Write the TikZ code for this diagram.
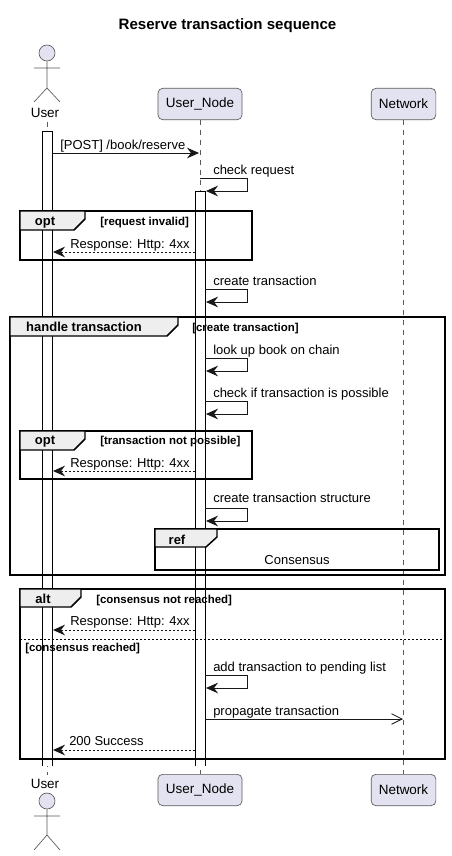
\documentclass[tikz,border=0pt]{standalone}
\usepackage{fontspec}
\setmainfont{Liberation Sans}
\usetikzlibrary{arrows.meta}
\definecolor{pfill}{HTML}{E2E2F0}
\definecolor{ink}{HTML}{181818}
\definecolor{soft}{HTML}{5A5A5A}
\definecolor{tabfill}{HTML}{EEEEEE}
\newcommand{\plabel}[1]{\raisebox{-.75pt}{#1}}
\tikzset{
  actorline/.style={draw=soft,line width=0.5pt},
  actorhead/.style={circle,draw=soft,line width=0.5pt,fill=pfill,minimum size=12pt,inner sep=0pt},
  pbox/.style={draw=soft,line width=0.5pt,fill=pfill,rounded corners=3.5pt,minimum height=23.5pt,inner sep=0pt,font=\fontsize{10.1}{12}\selectfont},
  lifeline/.style={draw=soft,line width=0.4pt,dash pattern=on 3.75pt off 3.75pt},
  activfill/.style={fill=white},
  activline/.style={draw=black,line width=0.75pt},
  msg/.style={draw=ink,line width=0.75pt,-{Stealth[length=9pt,width=8pt,inset=3pt,fill=ink]}},
  reply/.style={msg,dash pattern=on 1.5pt off 1.5pt},
  open/.style={draw=ink,line width=0.6pt,-{Straight Barb[length=8pt,width=8pt]}},
  frameline/.style={draw=black,line width=1.1pt},
  tabshape/.style={draw=black,line width=1.1pt,fill=tabfill},
  txt/.style={inner sep=0pt,anchor=mid west,yshift=-0.75pt,font=\fontsize{9.75}{12}\selectfont},
  guard/.style={inner sep=0pt,anchor=mid west,yshift=-0.75pt,font=\fontsize{8.6}{11}\bfseries\selectfont},
  tabtxt/.style={inner sep=0pt,anchor=mid,yshift=-0.75pt,font=\fontsize{9.75}{12}\bfseries\selectfont},
  actorlabel/.style={inner sep=0pt,anchor=mid,yshift=-0.75pt,font=\fontsize{10.1}{12}\selectfont},
}
\begin{document}
\begin{tikzpicture}[x=0.75pt,y=-0.75pt]
\useasboundingbox[fill=white] (0,0) rectangle (451,856);
\node[inner sep=0pt,font=\fontsize{11.3}{13}\bfseries\selectfont] (title) at (227.5,26) {Reserve transaction sequence};

% lifeline ends
\coordinate (ut) at (47,122); \coordinate (ub) at (47,775);
\node[pbox,minimum width=63pt] (untop) at (200,104) {\plabel{User\_Node}};
\node[pbox,minimum width=63pt] (unbot) at (200,790) {\plabel{User\_Node}};
\node[pbox,minimum width=48.5pt] (nwtop) at (403.5,104) {\plabel{Network}};
\node[pbox,minimum width=48.5pt] (nwbot) at (403.5,790) {\plabel{Network}};
\draw[lifeline] (ut) -- (ub);
\draw[lifeline] (untop) -- (unbot);
\draw[lifeline] (nwtop) -- (nwbot);

% activations (open at the bottom)
\coordinate (a1a) at (42,131); \coordinate (a1b) at (52,766);
\coordinate (a2a) at (195,191); \coordinate (a2b) at (205,766);
\fill[activfill] (a1a) rectangle (a1b);
\fill[activfill] (a2a) rectangle (a2b);
\draw[activline] (a1a |- a1b) -- (a1a) -- (a1b |- a1a) -- (a1b);
\draw[activline] (a2a |- a2b) -- (a2a) -- (a2b |- a2a) -- (a2b);

% actors
\node[actorhead] (h1) at (47,53) {};
\coordinate (n1) at (47,88); \coordinate (al1) at (34,68); \coordinate (ar1) at (60,68);
\coordinate (ll1) at (34,102); \coordinate (lr1) at (60,102);
\draw[actorline] (h1) -- (n1) (al1) -- (ar1) (ll1) -- (n1) -- (lr1);
\node[actorlabel] (ulabt) at (45,113) {User};
\node[actorlabel] (ulabb) at (45,784) {User};
\node[actorhead] (h2) at (47,801) {};
\coordinate (n2) at (47,835); \coordinate (al2) at (34,816); \coordinate (ar2) at (60,816);
\coordinate (ll2) at (34,850); \coordinate (lr2) at (60,850);
\draw[actorline] (h2) -- (n2) (al2) -- (ar2) (ll2) -- (n2) -- (lr2);

% messages
\node[txt] (t1) at (60,145) {[POST] /book/reserve};
\coordinate (m1a) at (52,153); \coordinate (m1b) at (199,153);
\draw[msg] (m1a) -- (m1b);

\node[txt] (t2) at (213,170) {check request};
\coordinate (m2a) at (200,178); \coordinate (m2b) at (247,191); \coordinate (m2c) at (206,191);
\draw[msg] (m2a) -| (m2b) -- (m2c);

% opt 1
\coordinate (o1a) at (20,211); \coordinate (o1b) at (252,260);
\draw[frameline] (o1a) rectangle (o1b);
\draw[tabshape] (20,211) -- (85,211) -- (85,219) -- (74,230) -- (20,230) -- cycle;
\node[tabtxt] (o1t) at (45,221) {opt};
\node[guard] (o1g) at (100,221) {[request invalid]};
\node[txt] (t3) at (70,244) {Response: Http: 4xx};
\coordinate (m3a) at (195,252); \coordinate (m3b) at (53,252);
\draw[reply] (m3a) -- (m3b);

\node[txt] (t4) at (213,281) {create transaction};
\coordinate (m4a) at (205,289); \coordinate (m4b) at (247,302); \coordinate (m4c) at (206,302);
\draw[msg] (m4a) -| (m4b) -- (m4c);

% handle transaction
\coordinate (hta) at (10,317); \coordinate (htb) at (445,575);
\draw[frameline] (hta) rectangle (htb);
\draw[tabshape] (10,317) -- (178,317) -- (178,325) -- (167,336) -- (10,336) -- cycle;
\node[tabtxt] (htt) at (84,327) {handle transaction};
\node[guard] (htg) at (192,327) {[create transaction]};

\node[txt] (t5) at (213,350) {look up book on chain};
\coordinate (m5a) at (205,358); \coordinate (m5b) at (247,371); \coordinate (m5c) at (206,371);
\draw[msg] (m5a) -| (m5b) -- (m5c);

\node[txt] (t6) at (213,393) {check if transaction is possible};
\coordinate (m6a) at (205,401); \coordinate (m6b) at (247,414); \coordinate (m6c) at (206,414);
\draw[msg] (m6a) -| (m6b) -- (m6c);

% opt 2
\coordinate (o2a) at (20,431); \coordinate (o2b) at (252,479);
\draw[frameline] (o2a) rectangle (o2b);
\draw[tabshape] (20,431) -- (85,431) -- (85,439) -- (74,450) -- (20,450) -- cycle;
\node[tabtxt] (o2t) at (45,440) {opt};
\node[guard] (o2g) at (100,440) {[transaction not possible]};
\node[txt] (t7) at (70,463) {Response: Http: 4xx};
\coordinate (m7a) at (195,471); \coordinate (m7b) at (53,471);
\draw[reply] (m7a) -- (m7b);

\node[txt] (t8) at (213,498) {create transaction structure};
\coordinate (m8a) at (205,508); \coordinate (m8b) at (247,521); \coordinate (m8c) at (206,521);
\draw[msg] (m8a) -| (m8b) -- (m8c);

% ref
\coordinate (ra) at (155,529); \coordinate (rb) at (439,570);
\draw[frameline] (ra) rectangle (rb);
\draw[tabshape] (155,529) -- (217,529) -- (217,537) -- (206,547) -- (155,547) -- cycle;
\node[tabtxt] (rt) at (177,540) {ref};
\node[inner sep=0pt,yshift=-0.75pt,font=\fontsize{9.75}{12}\selectfont] (rc) at (297,559) {Consensus};

% alt
\coordinate (aa) at (20,589); \coordinate (ab) at (445,759);
\coordinate (sa) at (20,639); \coordinate (sb) at (445,639);
\draw[frameline] (aa) rectangle (ab);
\draw[tabshape] (20,589) -- (81,589) -- (81,597) -- (71,607) -- (20,607) -- cycle;
\node[tabtxt] (at) at (43,599) {alt};
\node[guard] (ag1) at (96,599) {[consensus not reached]};
\node[txt] (t9) at (70,621) {Response: Http: 4xx};
\coordinate (m9a) at (195,630); \coordinate (m9b) at (53,630);
\draw[reply] (m9a) -- (m9b);
\draw[draw=black,line width=0.75pt,dash pattern=on 1.5pt off 1.5pt] (sa) -- (sb);
\node[guard] (ag2) at (25,647) {[consensus reached]};

\node[txt] (t10) at (213,667) {add transaction to pending list};
\coordinate (m10a) at (205,675); \coordinate (m10b) at (247,688); \coordinate (m10c) at (206,688);
\draw[msg] (m10a) -| (m10b) -- (m10c);

\node[txt] (t11) at (213,711) {propagate transaction};
\coordinate (m11a) at (205,719); \coordinate (m11b) at (403,719);
\draw[open] (m11a) -- (m11b);

\node[txt] (t12) at (69,741) {200 Success};
\coordinate (m12a) at (195,750); \coordinate (m12b) at (53,750);
\draw[reply] (m12a) -- (m12b);
\end{tikzpicture}
\end{document}
